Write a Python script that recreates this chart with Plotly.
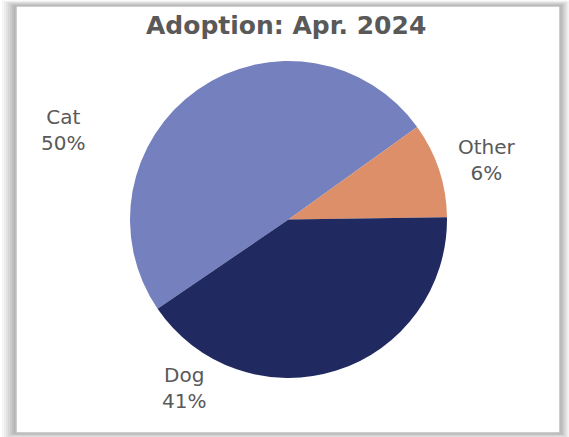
import plotly.graph_objects as go

# ---- data ----
categories = ["Cat", "Other", "Dog"]
slice_values = [49.6, 9.7, 40.7]          # slice sizes as drawn
label_percents = ["50%", "6%", "41%"]     # percentages printed on the chart
colors = ["#7580BE", "#DD8F69", "#202A60"]
title_text = "Adoption: Apr. 2024"

W, H = 569, 437
TXT = "#595959"
FONT = "DejaVu Sans"

def px(x):
    return x / W

def py(y):
    return 1 - y / H

fig = go.Figure(
    go.Pie(
        labels=categories,
        values=slice_values,
        marker=dict(colors=colors, line=dict(width=0)),
        sort=False,
        direction="clockwise",
        rotation=235.7,
        textinfo="none",
        hoverinfo="label+percent",
        showlegend=False,
        domain=dict(x=[px(130), px(447)], y=[py(378), py(61)]),
    )
)

# shadow / frame shapes
shapes = []
box = (16, 6, 560, 433)
for i, op in enumerate([0.05, 0.06, 0.07, 0.08, 0.09, 0.10, 0.11]):
    d = 14 - 2 * i
    shapes.append(dict(
        type="rect", xref="paper", yref="paper", layer="below",
        x0=px(box[0] - d), x1=px(box[2] + d * 0.7),
        y0=py(box[3] + d * 0.4), y1=py(box[1] - d * 0.4),
        fillcolor=f"rgba(90,90,90,{op})", line=dict(width=0),
    ))
shapes.append(dict(
    type="rect", xref="paper", yref="paper", layer="below",
    x0=px(box[0]), x1=px(box[2]), y0=py(box[3]), y1=py(box[1]),
    fillcolor="white", line=dict(color="#BFBFBF", width=1.5),
))

# data labels placed beside the slices (Excel best-fit style)
label_pos = {"Cat": (63, 130), "Other": (487, 160), "Dog": (184, 388)}
annotations = []
for cat, pct in zip(categories, label_percents):
    x, y = label_pos[cat]
    annotations.append(dict(
        x=px(x), y=py(y), xref="paper", yref="paper",
        text=f"{cat}<br>{pct}", showarrow=False, align="center",
        font=dict(family=FONT, size=20, color=TXT),
        xanchor="center", yanchor="middle",
    ))
annotations.append(dict(
    x=px(286), y=py(25), xref="paper", yref="paper",
    text=f"<b>{title_text}</b>", showarrow=False,
    font=dict(family=FONT, size=25, color=TXT),
    xanchor="center", yanchor="middle",
))

fig.update_layout(
    width=W, height=H,
    margin=dict(l=0, r=0, t=0, b=0),
    paper_bgcolor="white",
    plot_bgcolor="white",
    shapes=shapes,
    annotations=annotations,
)

fig.write_html(
    "out.html",
    config={"displayModeBar": False},
    post_script="document.body.style.margin='0';document.body.style.overflow='hidden';",
)
